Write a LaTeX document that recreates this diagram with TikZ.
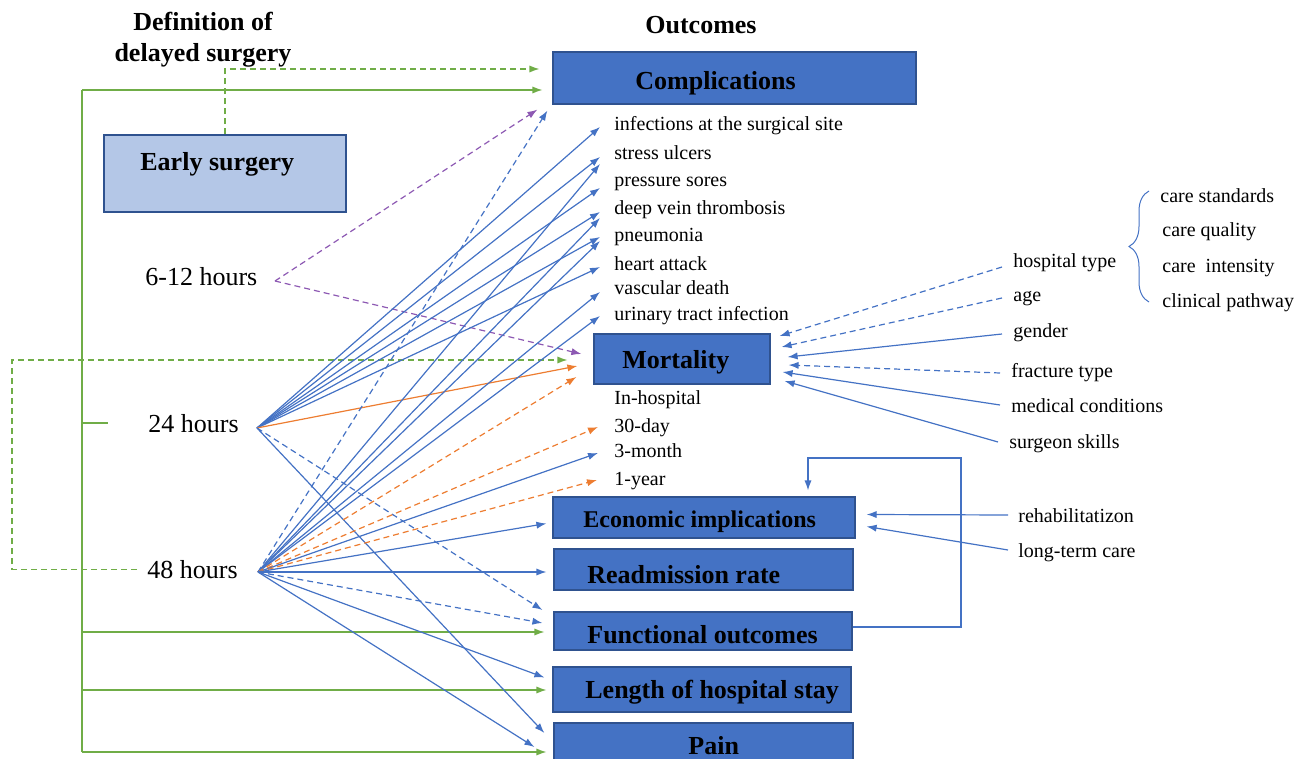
\documentclass[tikz,border=0pt]{standalone}
\usepackage{fontspec}
\setmainfont{Liberation Serif}
\usetikzlibrary{calc,arrows.meta,decorations.pathreplacing}
\definecolor{cblue}{RGB}{68,114,196}
\definecolor{cborder}{RGB}{47,82,143}
\definecolor{cpale}{RGB}{180,199,231}
\definecolor{cgreen}{RGB}{112,173,71}
\definecolor{corange}{RGB}{237,125,49}
\definecolor{cpurple}{RGB}{112,48,160}
\newcommand{\lblfont}{\fontsize{13}{15.5}\selectfont}
\newcommand{\itmfont}{\fontsize{10}{12}\selectfont}
\begin{document}
\begin{tikzpicture}[
    x=0.5pt, y=-0.5pt,
    every node/.style={inner sep=0pt},
    outbox/.style={draw=cborder, fill=cblue, line width=0.6pt},
    boxlbl/.style={anchor=base west, font=\lblfont\bfseries},
    timelbl/.style={anchor=base west, font=\lblfont},
    item/.style={anchor=base west, font=\itmfont},
    flow/.style={draw=cblue, line width=0.6pt, -{Latex[length=5pt,width=3.6pt]}},
    flowdash/.style={flow, dash pattern=on 3pt off 2pt},
    grn/.style={draw=cgreen, line width=0.6pt, -{Latex[length=5pt,width=3.6pt]}},
    grndash/.style={grn, dash pattern=on 3pt off 2pt},
    org/.style={draw=corange, line width=0.6pt, -{Latex[length=5pt,width=3.6pt]}},
    orgdash/.style={org, dash pattern=on 3pt off 2pt},
    prpdash/.style={draw=cpurple!80!white, line width=0.6pt, -{Latex[length=5pt,width=3.6pt]}, dash pattern=on 3pt off 2pt}
]
\useasboundingbox (0,0) rectangle (1302,759);

% headings
\node[anchor=base, font=\lblfont\bfseries] (def1) at (203,31) {Definition of};
\node[anchor=base, font=\lblfont\bfseries] (def2) at (203,62) {delayed surgery};
\node[anchor=base, font=\lblfont\bfseries] (outc) at (701,34) {Outcomes};

% outcome boxes
\node[outbox, minimum width=181.5pt, minimum height=26pt] (compl) at (734.5,78) {};
\node[boxlbl] (complT) at (635,90) {Complications};
\node[outbox, minimum width=88pt, minimum height=25pt] (mort) at (682,359) {};
\node[boxlbl] (mortT) at (622,369) {Mortality};
\node[outbox, minimum width=151pt, minimum height=20.5pt] (econ) at (704,517.5) {};
\node[boxlbl, font=\fontsize{12}{14}\selectfont\bfseries] (econT) at (583,527) {Economic implications};
\node[outbox, minimum width=149.5pt, minimum height=20.5pt] (read) at (703.5,569.5) {};
\node[boxlbl] (readT) at (587,583) {Readmission rate};
\node[outbox, minimum width=149pt, minimum height=19pt] (func) at (703,631) {};
\node[boxlbl] (funcT) at (587,643) {Functional outcomes};
\node[outbox, minimum width=149pt, minimum height=22.5pt] (len) at (702,689.5) {};
\node[boxlbl] (lenT) at (585,698) {Length of hospital stay};
\node[outbox, minimum width=149.5pt, minimum height=26pt] (pain) at (703.5,749) {};
\node[boxlbl] (painT) at (688,754) {Pain};

% early surgery and delay times
\node[draw=cborder, fill=cpale, line width=0.8pt, minimum width=121pt, minimum height=38.5pt] (early) at (225,173.5) {};
\node[boxlbl] (earlyT) at (140,171) {Early surgery};
\node[timelbl] (h612) at (145,286) {6-12 hours};
\node[timelbl] (h24) at (148,432) {24 hours};
\node[timelbl] (h48) at (147,578) {48 hours};
\coordinate (f612) at (275,281);
\coordinate (f24) at (257,428);
\coordinate (f48) at (258,572);

% complications
\node[item] (site) at (614,131) {infections at the surgical site};
\node[item] (ulcer) at (614,160) {stress ulcers};
\node[item] (sore) at (614,187) {pressure sores};
\node[item] (dvt) at (614,215) {deep vein thrombosis};
\node[item] (pneu) at (614,242) {pneumonia};
\node[item] (heart) at (614,271) {heart attack};
\node[item] (vasc) at (614,295) {vascular death};
\node[item] (uti) at (614,321) {urinary tract infection};

% mortality
\node[item] (inhosp) at (614,405) {In-hospital};
\node[item] (d30) at (614,432) {30-day};
\node[item] (m3) at (614,458) {3-month};
\node[item] (y1) at (614,485) {1-year};

% factors
\node[item] (htype) at (1013,268) {hospital type};
\node[item] (age) at (1013,302) {age};
\node[item] (gender) at (1013,338) {gender};
\node[item] (fract) at (1011,378) {fracture type};
\node[item] (medcond) at (1011,413) {medical conditions};
\node[item] (surg) at (1009,448) {surgeon skills};
\node[item] (cstd) at (1160,203) {care standards};
\node[item] (cqual) at (1162,237) {care quality};
\node[item] (cint) at (1162,273) {care~~intensity};
\node[item] (cpath) at (1162,308) {clinical pathway};
\node[item] (rehab) at (1018,522) {rehabilitatizon};
\node[item] (ltc) at (1018,557) {long-term care};

% green frame
\coordinate (gtop) at (82,90);
\coordinate (g24) at (82,423);
\coordinate (gf) at (82,632);
\coordinate (gl) at (82,690);
\coordinate (gbot) at (82,752);
\coordinate (loop) at (12,360);
\draw[cgreen, line width=0.6pt] (gtop) -- (gbot);
\draw[cgreen, line width=0.6pt] (g24) -- ++(26,0);
\draw[grn, shorten >=5pt] (gtop) -- (gtop -| compl.west);
\draw[grn, shorten >=4.5pt] (gf) -- (gf -| func.west);
\draw[grn, shorten >=3pt] (gl) -- (gl -| len.west);
\draw[grn, shorten >=3.5pt] (gbot) -- (gbot -| pain.west);
\draw[grndash] (early.north) |- ($(compl.west)+(-13,-9)$);
\draw[grndash] ([xshift=-5pt]h48.west) -| (loop) -- ($(mort.west)+(-26,1)$);

% 6-12 hours
\draw[prpdash] (f612) -- ($(compl.south west)+(-15,5)$);
\draw[prpdash] (f612) -- ($(mort.west)+(-12,-5)$);

% 24 hours
\foreach \t/\dy in {site/-4, ulcer/-3, sore/1, dvt/-3, pneu/-5, heart/-4}
    \draw[flow] (f24) -- ($(\t.base west)+(-14,\dy)$);
\draw[org] (f24) -- ($(mort.west)+(-16,7)$);
\draw[flowdash] (f24) -- ($(func.west)+(-11,-21)$);
\draw[flow] (f24) -- ($(pain.west)+(-9,-16)$);

% 48 hours
\foreach \t/\dy in {ulcer/4, dvt/3, pneu/-1, vasc/-3, uti/-5}
    \draw[flow] (f48) -- ($(\t.base west)+(-14,\dy)$);
\draw[flowdash] (f48) -- ($(compl.south west)+(-5,6)$);
\draw[orgdash] (f48) -- ($(mort.west)+(-17,18)$);
\draw[orgdash] (f48) -- ($(d30.base west)+(-16,-5)$);
\draw[flow] (f48) -- ($(m3.base west)+(-16,-5)$);
\draw[orgdash] (f48) -- ($(y1.base west)+(-17,-5)$);
\draw[flow] (f48) -- ($(econ.west)+(-6,6)$);
\draw[flow, shorten >=3.5pt] (f48) -- (f48 -| read.west);
\draw[flowdash] (f48) -- ($(func.west)+(-11,-8)$);
\draw[flow] (f48) -- ($(len.west)+(-8,-12)$);
\draw[flow] (f48) -- ($(pain.west)+(-19,-2)$);

% factors of mortality
\foreach \f/\dy/\tx/\ty/\st in {htype/-1/9/-23/flowdash, age/-4/11/-12/flowdash,
        gender/-4/17/-2/flow, fract/-5/18/6/flowdash, medcond/-8/12/13/flow, surg/-6/14/22/flow}
    \draw[\st] ($(\f.base west)+(-11,\dy)$) -- ($(mort.east)+(\tx,\ty)$);
\draw[cblue, line width=0.5pt, decorate, decoration={brace, amplitude=10pt}] (1149,302) -- (1149,191);

% economic implications
\draw[flow] ($(rehab.base west)+(-10,-7)$) -- ($(econ.east)+(11,-3)$);
\draw[flow] ($(ltc.base west)+(-10,-7)$) -- ($(econ.east)+(11,9)$);
\coordinate (fb) at (961,458);
\draw[flow] ([yshift=2pt]func.east) -| (fb) -| ([xshift=52pt,yshift=3pt]econ.north);
\end{tikzpicture}
\end{document}
